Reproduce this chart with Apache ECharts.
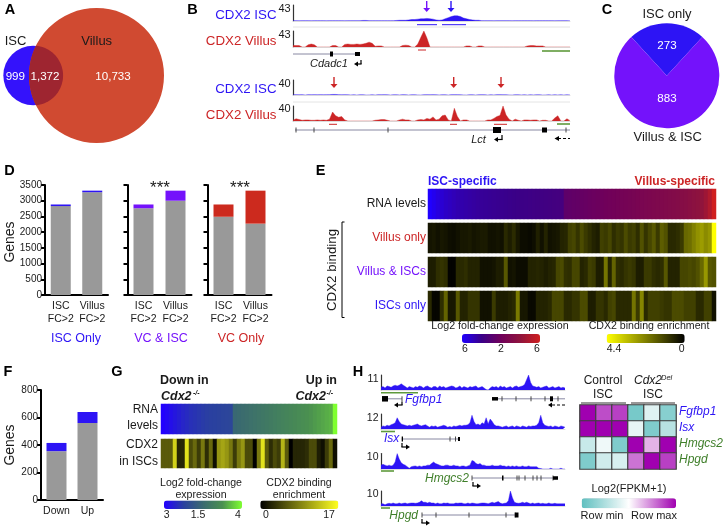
<!DOCTYPE html>
<html><head><meta charset="utf-8">
<style>html,body{margin:0;padding:0;background:#fff}#c{width:725px;height:527px}</style>
<script src="https://cdn.jsdelivr.net/npm/echarts@6/dist/echarts.min.js"></script>
</head><body><div id="c"></div>
<script>
// ---------- DATA ----------
const vennCounts = [999, 1372, 10733];
const pieNames = ['ISC only', 'Villus & ISC'];
const pieValues = [273, 883];
const dCats = ['ISC\nFC>2', 'Villus\nFC>2'];
const dYTicks = [0, 500, 1000, 1500, 2000, 2500, 3000, 3500];
const dIscGray = [2830, 3270], dIscTop = [50, 50];
const dVcIscGray = [2760, 3000], dVcIscTop = [120, 320];
const dVcGray = [2490, 2270], dVcTop = [390, 1050];
const fCats = ['Down', 'Up'];
const fGray = [355, 560], fTop = [60, 80];

const b1Isc = [1,1,0.5,1,1,1,0.5,1,1,1, 1,0.5,1,1,1,1,1,0.5,1,1, 1,1,1,1.5,1.5,1,1,1,1,1, 1,1,1,1,1.5,2,2,2,3,4, 4,5,6,6,7,6,5,3,2,3, 6,9,12,14,14,12,8,6,4,3, 2,2,1,1,1,1,0.5,1,1,1, 1,1,0.5,1,1,1,1,1,1,0.5, 1,1,1,1,1,1,0.5,1,1,1, 1,1];
const b2Villus = [4,4,4,0,0,6,8,6,0,0, 0,0,0,4,4,0,0,7,8,7, 7,8,7,8,10,13,10,2,3,3, 0,0,0,0,0,0,4,5,4,0, 0,8,26,43,24,0,0,0,0,0, 0,0,0,0,0,0,0,3,3,0, 0,3,3,0,0,0,0,0,0,0, 0,0,0,0,0,0,0,3,4,4, 3,3,3,0,0,0,0,0,0,0, 0,0];
const b3Isc = [0.5,1,0.5,1,0,1,0.5,1,0.5,1, 0.5,0.8,1,1.5,1.5,1,0.5,1,0.5,0.3, 0.5,0,0.5,0.5,0,0.3,0.5,0,0.8,0.5, 1,0.5,0,0.5,0.5,0.3,1,0.5,0,0.5, 0.5,0.3,0,0.5,0.8,0.5,1,0.5,0.3,0.5, 0.5,0,0.8,1,0.8,0.5,0.3,0,0.5,0.5, 0,0.5,0.8,0.5,0,0.5,0.3,1,1,0.5, 0.5,0.3,0,0.5,0.5,0.3,0.5,0,0.5,0.3, 0.5,0.5,0,0.3,0.5,0,0.5,0.3,0.5,0, 0.5,0.3];
const b4Villus = [2,6,4,2,3,3,2,2,3,2, 3,2,5,24,14,10,12,3,0,0, 0,0,0,0,0,0,0,2,3,4, 4,2,0,0,0,3,5,3,3,0, 0,3,4,3,7,5,11,3,5,14, 16,3,0,34,12,0,3,3,0,0, 0,0,0,0,3,3,7,12,15,40, 16,5,0,5,2,0,3,3,2,3, 3,0,2,2,0,0,8,14,0,0, 6,1];
const hFgfbp1 = [2,2.5,1.5,3,2.5,2,3,3.5,3,3.5, 4.5,3.5,2.5,1.5,2.5,2,1.5,2.5,2,3, 2.5,1.5,2.5,3,2,1.5,2.5,2.5,1.5,3, 2,2.5,1.5,2,2.5,3,2.5,1.5,2,3, 1.5,2.5,2,1.5,2.5,2,2.5,3,1.5,2, 2.5,1.5,0.3,0,1.5,2.5,2,2.5,1.5,3, 2,2.5,1.5,2,2.5,1.5,2.5,3,2,2.5, 3,4,7.5,11,5.5,3,2.5,2,2.5,1.5, 2,2.5,3,1.5,2,2.5,1.5,2,2.5,1.5, 2,1.5];
const hIsx = [1.5,2.5,2,3,2.5,3.5,4,5,9,6, 4,3.5,3,2.5,3,2.5,3,3.5,4,3, 2.5,3,3.5,2.5,1.5,2.5,2,2.5,1.5,2, 2.5,3,2.5,1.5,2,1.5,2.5,2,2.5,3, 2.5,3,3,3.5,5,11,6,3.5,4,3, 5,4,9,4,8,6,3.5,2.5,2.5,2, 1.5,2,2.5,1.5,2,2.5,1.5,2.5,2,1.5, 2.5,2,1.5,2.5,2,2.5,2.5,3,5,11, 5,3,2.5,2,2.5,1.5,2.5,2,1.5,2.5, 2,1.5];
const hHmgcs2 = [2.5,3,2.5,2,2.5,2,2.5,4.5,10,6.5, 4,3,2.5,1.5,0.5,1.5,1.8,2,1.5,2, 1.5,2,2,2.5,2.5,3.5,4.5,3.5,3,2.5, 2,2,2.5,2.5,2,2,2.5,2,2,1.5, 2,2,1.5,2,2.5,5.5,5,3.5,3,3.5, 2.5,2.5,2,2,2,2.5,2,2,2,2.5, 2,2,1.5,2,1.5,2,1.5,2,1.5,1.5, 2,1.5,1.5,2,1.5,1.5,1.5,1.5,0.5,0.3, 0,0,0,0,0.5,0,0,0,0,0.5, 0,0];
const hHpgd = [1.5,1.5,0.8,1.5,1.8,1.5,2,1.5,1.5,2, 1.5,1.8,2,1.5,1.8,2,2,1.8,2,2.5, 3.5,2.5,2.5,2,2.5,2,2,1.5,2,1.5, 1.5,2,1.8,2,1.5,1.5,1.5,2,1.8,2, 2,1.5,1.5,2,1.5,2,1.8,1.5,1.5,1.8, 2,2,1.8,1.5,2,2.5,2,2.5,3,2, 1.5,1.8,2,3.5,10,5.5,2.5,2,1.8,2, 2.5,2,2.5,2,1.5,2,1.5,1.8,2,1.5, 1.8,1.5,1.5,2,1.5,1.5,1.8,1.5,1.5,1.5, 1.5,1.5];

const eRna = [-6,-5.6,-5.2,-4.9,-4.6,-4.4,-4.2,-4.0,-3.9,-3.8,-3.7,-3.6,
 -3.5,-3.4,-3.35,-3.3,-3.25,-3.2,-3.15,-3.1,-3.05,-3.0,-2.95,-2.9,
 -2.85,-2.8,-2.75,-2.7,-2.65,-2.6,-2.55,-2.5,-2.45,-2.4,-1.0,-0.9,
 -0.8,-0.7,-0.6,-0.5,-0.4,-0.3,-0.2,-0.1,0,0.1,0.2,0.3,
 0.4,0.5,0.6,0.7,0.8,0.9,1.0,1.1,1.2,1.3,1.4,1.5,
 1.6,1.7,1.8,2,2.1,2.3,2.5,2.7,3.0,3.6,4.5,6];
const eVillusOnly = [0.35,0.4,0.3,0.4,0.35,0.25,0.2,0.3,0.4,0.4,0.45,0.35,
 0.4,0.45,0.45,0.3,0.3,0.35,0.3,0.7,0.5,0.75,0.4,0.2,
 0.2,0.15,0.25,0.55,0.3,0.6,0.3,0.35,0.4,0.6,0.65,1.1,
 1.2,0.9,1.3,1.0,0.8,0.6,0.5,1.1,1.0,1.2,0.8,1.0,
 0.9,1.3,1.0,1.1,0.8,1.4,0.9,1.2,1.5,1.0,1.6,1.4,
 0.7,0.7,0.8,1.0,1.8,1.9,2.2,2.5,2.7,2.4,2.6,4.4];
const eVillusIsc = [0.5,0.5,0.8,0.9,0.8,0.05,0.05,0.7,0.7,0.8,0.6,0.6,
 0.6,0.3,0.3,0.3,0.35,0.5,0.5,1.5,0.3,0.35,0.2,0.2,
 0.2,0.6,0.6,0.65,0.6,0.5,0.6,0.65,1.2,1.3,0.85,0.8,
 1.2,1.2,0.6,0.7,1.1,1.0,0.5,0.5,2.0,0.6,1.7,0.8,
 0.7,0.9,1.0,0.9,0.5,0.5,1.0,1.0,0.8,0.7,0.8,1.5,
 0.6,0.6,0.6,1.2,1.2,1.3,1.2,1.4,1.8,2.6,1.5,1.4];
const eIscOnly = [0.7,0.1,0.1,0.8,1.7,0.4,0.4,1.5,0.6,0.6,0.9,0.9,
 0.9,0.3,0.3,0.3,1.0,0.5,0.5,0.5,0.6,0.7,2.1,0.4,
 0.4,0.15,0.15,0.6,0.6,0.6,0.7,1.2,1.2,1.2,0.7,0.7,
 0.9,0.9,1.3,1.3,0.5,0.5,0.9,0.9,0.7,1.1,1.2,0.7,
 0.7,0.7,0.7,2.0,1.0,2.3,0.7,1.1,1.1,1.1,1.0,0.9,
 0.9,1.3,1.3,1.3,1.1,1.1,1.1,0.7,0.7,1.1,1.1,0.3];
const gRna = [-3,-2.8,-2.6,-2.4,-2.2,-2.0,-1.85,-1.7,-1.6,-1.5,-1.4,-1.3,-1.25,-1.2,-1.15,-1.1,-1.05,-1.0,
 0.4,0.5,0.6,0.7,0.8,0.9,1.0,1.1,1.2,1.3,1.4,1.5,1.6,1.7,1.8,1.9,2.0,2.1,2.2,2.3,2.4,2.5,2.6,2.7,2.8,4];
const gCdx2 = [6,6,6,14,2.5,2.5,15,5,7,4,8,3, 7,1,10,11,10,8,4,8,10,5,5,0,
 8,15,6,3,5,4,12,6,0,2.5,2.5,2.5, 3,5,5,2,1,4,7,1];
const hGenes = ['Fgfbp1', 'Isx', 'Hmgcs2', 'Hpgd'];
const hFgfbp1Row = [1, 0.7, 0.75, -0.85, -0.2, -0.75];
const hIsxRow = [1, 1, 1, -0.15, -0.8, -0.45];
const hHmgcs2Row = [-0.35, -0.1, -0.8, 1, 0.3, 1];
const hHpgdRow = [-0.8, -0.3, -0.25, 0.55, 1, 0.75];

// ---------- STYLE ----------
const FF = '"Liberation Sans", Arial, sans-serif';
const BLUE = '#2d14f5', PURPLE = '#7412fb', RED = '#cc2526', GREEN = '#3f7f2a', GRAY = '#999999', INK = '#1a1a1a';

const grids = [], xAxes = [], yAxes = [], series = [], visualMaps = [], gfx = [];
function addGrid(l, t, w, h, x, y) {
  grids.push({ left: l, top: t, width: w, height: h, containLabel: false });
  const i = grids.length - 1;
  xAxes.push(Object.assign({ gridIndex: i }, x));
  yAxes.push(Object.assign({ gridIndex: i }, y));
  return i;
}
function addSeries(s) { series.push(s); return series.length - 1; }

// text and line helpers
function T(x, y, s, o) {
  o = o || {};
  gfx.push({ type: 'text', x, y, z: 100, rotation: o.rot || 0, silent: true,
    style: { text: s, fill: o.c || INK, fontSize: o.s || 12, fontFamily: FF,
      fontWeight: o.b ? 'bold' : 'normal', fontStyle: o.i ? 'italic' : 'normal',
      textAlign: o.a || 'center', textVerticalAlign: 'middle' } });
}
function L(x1, y1, x2, y2, c, w, dash) {
  gfx.push({ type: 'line', z: 99, silent: true, shape: { x1, y1, x2, y2 },
    style: { stroke: c || '#000', lineWidth: w || 1, lineDash: dash || null } });
}
function P(points, c) { gfx.push({ type: 'polygon', z: 99, silent: true, shape: { points }, style: { fill: c } }); }
function down(x, y1, y2, c) { L(x, y1, x, y2 - 3, c, 1.4); P([[x - 3.5, y2 - 4], [x + 3.5, y2 - 4], [x, y2]], c); }
function elbowL(xr, y0, y1, xl) { // transcription start arrow, pointing left
  L(xr, y0, xr, y1, '#000', 1.2); L(xr + 0.6, y1, xl + 3, y1, '#000', 1.2);
  P([[xl + 4, y1 - 2.5], [xl + 4, y1 + 2.5], [xl, y1]], '#000');
}
function elbowR(xl, y0, y1, xr) {
  L(xl, y0, xl, y1, '#000', 1.2); L(xl - 0.6, y1, xr - 3, y1, '#000', 1.2);
  P([[xr - 4, y1 - 2.5], [xr - 4, y1 + 2.5], [xr, y1]], '#000');
}
function gene(y, x0, x1, exons, ticks) {
  L(x0, y, x1, y, '#6a6a8c', 0.8);
  (ticks || []).forEach(t => L(t, y - 2.5, t, y + 2.5, '#333', 0.9));
  (exons || []).forEach(e => gfx.push({ type: 'rect', z: 99, silent: true,
    shape: { x: e[0], y: y - e[2] / 2, width: e[1] - e[0], height: e[2] }, style: { fill: '#000' } }));
}

// ---------- A: VENN ----------
(function () {
  const g = addGrid(0, 0, 170, 150,
    { type: 'value', min: 0, max: 170, show: false }, { type: 'value', min: 0, max: 150, inverse: true, show: false });
  const k = 0.6135, r1 = k * Math.sqrt(vennCounts[0] + vennCounts[1]), r2 = k * Math.sqrt(vennCounts[1] + vennCounts[2]);
  const cy = 75.5, cx1 = 33.2, cx2 = 96.5;
  addSeries({ type: 'custom', xAxisIndex: g, yAxisIndex: g, silent: true, data: [[0, 0]], clip: false,
    renderItem(p, api) {
      const d = cx2 - cx1, a = (d * d + r1 * r1 - r2 * r2) / (2 * d), h = Math.sqrt(r1 * r1 - a * a);
      const t1 = Math.atan2(h, a), t2 = Math.atan2(h, d - a), pts = [];
      for (let i = 0; i <= 40; i++) { const t = -t1 + 2 * t1 * i / 40; pts.push(api.coord([cx1 + r1 * Math.cos(t), cy + r1 * Math.sin(t)])); }
      for (let i = 0; i <= 40; i++) { const t = Math.PI - t2 + 2 * t2 * i / 40; pts.push(api.coord([cx2 + r2 * Math.cos(t), cy + r2 * Math.sin(t)])); }
      const c1 = api.coord([cx1, cy]), c2 = api.coord([cx2, cy]);
      return { type: 'group', children: [
        { type: 'circle', shape: { cx: c1[0], cy: c1[1], r: r1 }, style: { fill: '#3412fb' } },
        { type: 'circle', shape: { cx: c2[0], cy: c2[1], r: r2 }, style: { fill: '#d04a31' } },
        { type: 'polygon', shape: { points: pts }, style: { fill: '#9e2530' } }
      ] };
    } });
  T(15.5, 41, 'ISC', { s: 13 });
  T(96.7, 41, 'Villus', { s: 13 });
  T(15.3, 77, vennCounts[0].toString(), { c: '#fff', s: 11.6 });
  T(45, 77, vennCounts[1].toLocaleString('en-US'), { c: '#fff', s: 11.6 });
  T(113, 77, vennCounts[2].toLocaleString('en-US'), { c: '#fff', s: 11.6 });
})();

// ---------- B: TRACKS ----------
function track(l, t, w, h, vals, max, col, bins) {
  const g = addGrid(l, t, w, h,
    { type: 'value', min: 0, max: bins - 1, axisLabel: { show: false }, axisTick: { show: false }, splitLine: { show: false },
      axisLine: { show: true, onZero: false, lineStyle: { color: '#d4d4d4', width: 0.8 } } },
    { type: 'value', min: 0, max, axisLabel: { show: false }, axisTick: { show: false }, splitLine: { show: false },
      axisLine: { show: true, lineStyle: { color: '#333', width: 1.2 } } });
  addSeries({ type: 'line', xAxisIndex: g, yAxisIndex: g, data: vals.map((v, i) => [i, v]), showSymbol: false, silent: true,
    sampling: 'none', lineStyle: { width: 0.4, color: col }, itemStyle: { color: col }, areaStyle: { color: col, opacity: 1 } });
}
track(293, 5, 277, 16, b1Isc, 43, BLUE, 92);
track(293, 31, 277, 16, b2Villus, 43, RED, 92);
track(293, 80, 277, 15, b3Isc, 40, BLUE, 92);
track(293, 106, 277, 15, b4Villus, 40, RED, 92);
L(293, 27, 570, 27, '#dddddd', 0.8); L(293, 102, 570, 102, '#dddddd', 0.8);
T(276.5, 15, 'CDX2 ISC', { c: BLUE, a: 'right', s: 13.3 }); T(284.5, 9, '43', { s: 11 });
T(276.5, 41, 'CDX2 Villus', { c: RED, a: 'right', s: 13.3 }); T(284.5, 34.7, '43', { s: 11 });
T(276.5, 89, 'CDX2 ISC', { c: BLUE, a: 'right', s: 13.3 }); T(284.5, 84, '40', { s: 11 });
T(276.5, 115, 'CDX2 Villus', { c: RED, a: 'right', s: 13.3 }); T(284.5, 109, '40', { s: 11 });
down(426.7, 1, 12, PURPLE); down(451, 1, 12, BLUE);
down(334, 77, 88, RED); down(453.7, 77, 88, RED); down(501, 77, 88, RED);
L(417, 24.7, 437, 24.7, BLUE, 1); L(442, 24.7, 466, 24.7, BLUE, 1);
L(418, 50, 426, 50, RED, 1); L(329, 124.3, 337, 124.3, RED, 1); L(450, 124.3, 457, 124.3, RED, 1); L(494, 124.3, 507, 124.3, RED, 1);
L(542, 51, 570, 51, '#5f9a3c', 1.6); L(557, 124, 570, 124, '#5f9a3c', 1.6);
gene(54, 293, 358, [[330, 333, 5], [355, 360, 4]], []);
T(329, 63.5, 'Cdadc1', { i: 1, s: 11 });
elbowL(361, 60, 64, 354);
gene(130, 295, 570, [[493, 501, 6], [542, 547, 5]], [296, 314, 388, 566]);
T(478.5, 139.5, 'Lct', { i: 1, s: 11 });
elbowL(502, 135, 139.5, 494);
L(558, 138.5, 570, 138.5, '#000', 1.2, [3, 2]); P([[559, 136], [559, 141], [554.5, 138.5]], '#000');

// ---------- C: PIE ----------
addSeries({ type: 'pie', silent: true, center: [666.8, 75.7], radius: [0, 52.5], startAngle: 132.5, animation: false,
  data: pieNames.map((n, i) => ({ name: n, value: pieValues[i], itemStyle: { color: [BLUE, PURPLE][i] } })),
  label: { show: false }, labelLine: { show: false } });
T(667, 14, pieNames[0], { s: 13 }); T(667.7, 137, pieNames[1], { s: 13 });
T(667, 46, String(pieValues[0]), { c: '#fff', s: 11.6 }); T(667, 98.7, String(pieValues[1]), { c: '#fff', s: 11.6 });

// ---------- D / F: STACKED BARS ----------
function barPanel(l, t, w, h, cats, gray, top, col, max, step, showY, labSize) {
  const axisStyle = { lineStyle: { color: '#000', width: 2 } };
  const g = addGrid(l, t, w, h,
    { type: 'category', data: cats, axisLine: axisStyle, axisTick: Object.assign({ alignWithLabel: true, length: 4 }, axisStyle),
      axisLabel: { color: INK, fontSize: labSize, lineHeight: 13, margin: 5, fontFamily: FF, interval: 0 } },
    { type: 'value', min: 0, max, interval: step, splitLine: { show: false }, axisLine: Object.assign({ show: true }, axisStyle),
      axisTick: Object.assign({ show: true, length: 4 }, axisStyle),
      axisLabel: { show: showY, color: INK, fontSize: 10, margin: 3, fontFamily: FF, formatter: v => String(v) } });
  addSeries({ type: 'bar', xAxisIndex: g, yAxisIndex: g, stack: 's' + g, barWidth: 20, data: gray, silent: true, itemStyle: { color: GRAY } });
  addSeries({ type: 'bar', xAxisIndex: g, yAxisIndex: g, stack: 's' + g, barWidth: 20, data: top, silent: true, itemStyle: { color: col } });
}
const dMax = dYTicks[dYTicks.length - 1], dStep = dYTicks[1];
barPanel(45, 185, 63, 110, dCats, dIscGray, dIscTop, BLUE, dMax, dStep, true, 10.5);
barPanel(127.5, 185, 64, 110, dCats, dVcIscGray, dVcIscTop, PURPLE, dMax, dStep, false, 10.5);
barPanel(207.5, 185, 64, 110, dCats, dVcGray, dVcTop, '#cc2a1e', dMax, dStep, false, 10.5);
T(10, 242, 'Genes', { s: 14, rot: Math.PI / 2 });
T(160, 188, '***', { s: 17 }); T(240, 188, '***', { s: 17 });
T(76, 338.5, 'ISC Only', { c: BLUE, s: 12.5 }); T(161, 338.5, 'VC & ISC', { c: PURPLE, s: 12.5 }); T(241, 338.5, 'VC Only', { c: RED, s: 12.5 });

barPanel(41, 390, 62, 110, fCats, fGray, fTop, BLUE, 800, 200, true, 10.5);
T(10.5, 445, 'Genes', { s: 14, rot: Math.PI / 2 });

// ---------- HEAT STRIPS ----------
function strip(l, t, w, h, vals) {
  const g = addGrid(l, t, w, h,
    { type: 'category', data: vals.map((_, i) => i), show: false },
    { type: 'category', data: ['r'], show: false });
  return addSeries({ type: 'heatmap', xAxisIndex: g, yAxisIndex: g, silent: true, progressive: 0,
    data: vals.map((v, i) => [i, 0, v]), itemStyle: { borderWidth: 0 } });
}
function vm(indices, min, max, colors, legend) {
  visualMaps.push(Object.assign({ type: 'continuous', seriesIndex: indices, min, max, inRange: { color: colors },
    show: !!legend, calculable: false, realtime: false, hoverLink: false, orient: 'horizontal', padding: 0, text: null }, legend || {}));
}

// E
const eR = strip(428, 189, 288, 30, eRna);
const eB = [strip(428, 223, 288, 30, eVillusOnly), strip(428, 257, 288, 30, eVillusIsc), strip(428, 291, 288, 30, eIscOnly)];
vm([eR], -6, 6, ['#2000ff', '#3a0088', '#70005a', '#90143c', '#d01f1f'], { left: 462, top: 334, itemWidth: 9, itemHeight: 78 });
vm(eB, 0, 4.4, ['#000000', '#ffff00'], { left: 606.7, top: 334, itemWidth: 9, itemHeight: 78, inverse: true });
T(428, 181.5, 'ISC-specific', { c: BLUE, b: 1, a: 'left', s: 12 });
T(715, 181.5, 'Villus-specific', { c: RED, b: 1, a: 'right', s: 12 });
T(426, 204, 'RNA levels', { a: 'right', s: 12 });
T(426, 237.5, 'Villus only', { c: RED, a: 'right', s: 12 });
T(426, 272, 'Villus & ISCs', { c: PURPLE, a: 'right', s: 12 });
T(426, 305.5, 'ISCs only', { c: BLUE, a: 'right', s: 12 });
T(332, 270, 'CDX2 binding', { s: 13.3, rot: Math.PI / 2 });
L(342, 222, 342, 317.5, '#000', 1); L(342, 222, 344.5, 222, '#000', 1); L(342, 317.5, 344.5, 317.5, '#000', 1);
T(500, 326.5, 'Log2 fold-change expression', { s: 10.7 });
T(649, 326.5, 'CDX2 binding enrichment', { s: 10.6 });
T(465, 349.5, '6', { s: 10.5 }); T(501, 349.5, '2', { s: 10.5 }); T(537, 349.5, '6', { s: 10.5 });
T(614, 349.5, '4.4', { s: 10.5 }); T(681.7, 349.5, '0', { s: 10.5 });

// G
const gR = strip(161, 404, 176, 30, gRna), gB = strip(161, 439, 176, 29, gCdx2);
vm([gR], -3, 4, ['#2200ff', '#2a40a0', '#3a6a70', '#4a9050', '#7fff30'], { left: 164, top: 500.5, itemWidth: 8.5, itemHeight: 78 });
vm([gB], 0, 17, ['#000000', '#ffff20'], { left: 260.3, top: 500.5, itemWidth: 8.5, itemHeight: 78 });
T(160, 381, 'Down in', { b: 1, a: 'left', s: 12.5 });
T(161, 397, 'Cdx2', { b: 1, i: 1, a: 'left', s: 12.5 }); T(193, 393.5, '-/-', { b: 1, i: 1, a: 'left', s: 7 });
T(337, 381, 'Up in', { b: 1, a: 'right', s: 12.5 });
T(326, 397, 'Cdx2', { b: 1, i: 1, a: 'right', s: 12.5 }); T(326.5, 393.5, '-/-', { b: 1, i: 1, a: 'left', s: 7 });
T(158, 410, 'RNA', { a: 'right', s: 12 }); T(158, 426, 'levels', { a: 'right', s: 12 });
T(158, 445, 'CDX2', { a: 'right', s: 12 }); T(158, 462, 'in ISCs', { a: 'right', s: 12 });
T(201, 483, 'Log2 fold-change', { s: 10.6 }); T(201, 495.5, 'expression', { s: 10.6 });
T(299, 483, 'CDX2 binding', { s: 10.6 }); T(299, 495.5, 'enrichment', { s: 10.6 });
T(166.7, 515, '3', { s: 10.5 }); T(198, 515, '1.5', { s: 10.5 }); T(238, 515, '4', { s: 10.5 });
T(266, 515, '0', { s: 10.5 }); T(329, 515, '17', { s: 10.5 });

// ---------- H: TRACKS ----------
track(381, 375, 184, 15, hFgfbp1, 11, BLUE, 92);
track(381, 414, 184, 15, hIsx, 12, BLUE, 92);
track(381, 453.5, 184, 15.5, hHmgcs2, 10, BLUE, 92);
track(381, 491, 184, 15, hHpgd, 10, BLUE, 92);
T(378.5, 379, '11', { a: 'right', s: 10.5 }); T(378.5, 418, '12', { a: 'right', s: 10.5 });
T(378.5, 457, '10', { a: 'right', s: 10.5 }); T(378.5, 494.5, '10', { a: 'right', s: 10.5 });
L(381, 392.7, 418, 392.7, '#5f9a3c', 1.6); L(381, 431.5, 395, 431.5, '#5f9a3c', 1.6);
L(381, 471, 394, 471, '#5f9a3c', 1.6); L(381, 508, 390, 508, '#5f9a3c', 1.6);
gene(398.8, 382, 402, [[382, 388, 5.5]], [402]);
gene(398.8, 492, 565, [[492, 498, 3.5], [550, 553, 5]], [502, 516, 531, 545, 558]);
elbowL(402, 401.5, 405, 394);
L(552, 405, 565, 405, '#000', 1.2, [3, 2]); P([[552, 402.5], [552, 407.5], [548, 405]], '#000');
T(405, 399.5, 'Fgfbp1', { c: BLUE, i: 1, a: 'left', s: 12 });
gene(439, 401.7, 459, [[401.7, 403, 5], [458, 460, 4]], [450, 455.5]);
T(384, 438.5, 'Isx', { c: BLUE, i: 1, a: 'left', s: 12 });
elbowR(402, 443, 447, 410);
gene(478, 472, 556, [[502, 503.5, 5], [553, 558, 3.5]], [472, 517, 519, 525, 533, 537, 541, 553]);
T(469, 478.5, 'Hmgcs2', { c: GREEN, i: 1, a: 'right', s: 12 });
elbowR(473, 482, 486, 481);
gene(515, 422, 516, [[515, 518.5, 5]], [422, 436, 469, 506, 515]);
T(418, 515.5, 'Hpgd', { c: GREEN, i: 1, a: 'right', s: 12 });
elbowR(422, 519, 523, 430);

// ---------- H: HEAT TABLE ----------
(function () {
  const rows = [hFgfbp1Row, hIsxRow, hHmgcs2Row, hHpgdRow];
  const g = addGrid(580, 405, 96, 64,
    { type: 'category', data: [0, 1, 2, 3, 4, 5], show: false },
    { type: 'category', data: hGenes, inverse: true, show: false });
  const data = [];
  rows.forEach((r, j) => r.forEach((v, i) => data.push([i, j, v])));
  const s = addSeries({ type: 'heatmap', xAxisIndex: g, yAxisIndex: g, silent: true, data, itemStyle: { borderColor: '#3f3f3f', borderWidth: 1.2 } });
  vm([s], -1, 1, ['#5fbfbf', '#ffffff', '#a000b0'], { left: 581.7, top: 498.3, itemWidth: 10, itemHeight: 94.3 });
  const geneCols = [BLUE, BLUE, GREEN, GREEN];
  hGenes.forEach((n, i) => T(679, 412 + i * 16, n, { c: geneCols[i], i: 1, a: 'left', s: 12 }));
})();
T(603, 381, 'Control', { s: 12 }); T(603, 394.5, 'ISC', { s: 12 });
T(634, 381, 'Cdx2', { i: 1, a: 'left', s: 12 }); T(661, 378, 'Del', { i: 1, a: 'left', s: 7.5 });
T(653, 394.5, 'ISC', { s: 12 });
L(581, 403, 626, 403, '#333', 1.2); L(631, 403, 675, 403, '#333', 1.2);
T(629, 488.5, 'Log2(FPKM+1)', { s: 11 });
T(602, 515.5, 'Row min', { s: 11 }); T(654, 515.5, 'Row max', { s: 11 });

// ---------- PANEL LETTERS ----------
[['A', 10, 10], ['B', 192.5, 10], ['C', 607, 10], ['D', 9.5, 171], ['E', 320.5, 171], ['F', 8, 372], ['G', 117, 372], ['H', 358, 372]]
  .forEach(p => T(p[1], p[2], p[0], { b: 1, s: 14.5, c: '#000' }));

const chart = echarts.init(document.getElementById('c'), null, { renderer: 'canvas' });
chart.setOption({ animation: false, backgroundColor: '#fff', grid: grids, xAxis: xAxes, yAxis: yAxes,
  series, visualMap: visualMaps, graphic: { elements: gfx } });
</script></body></html>
